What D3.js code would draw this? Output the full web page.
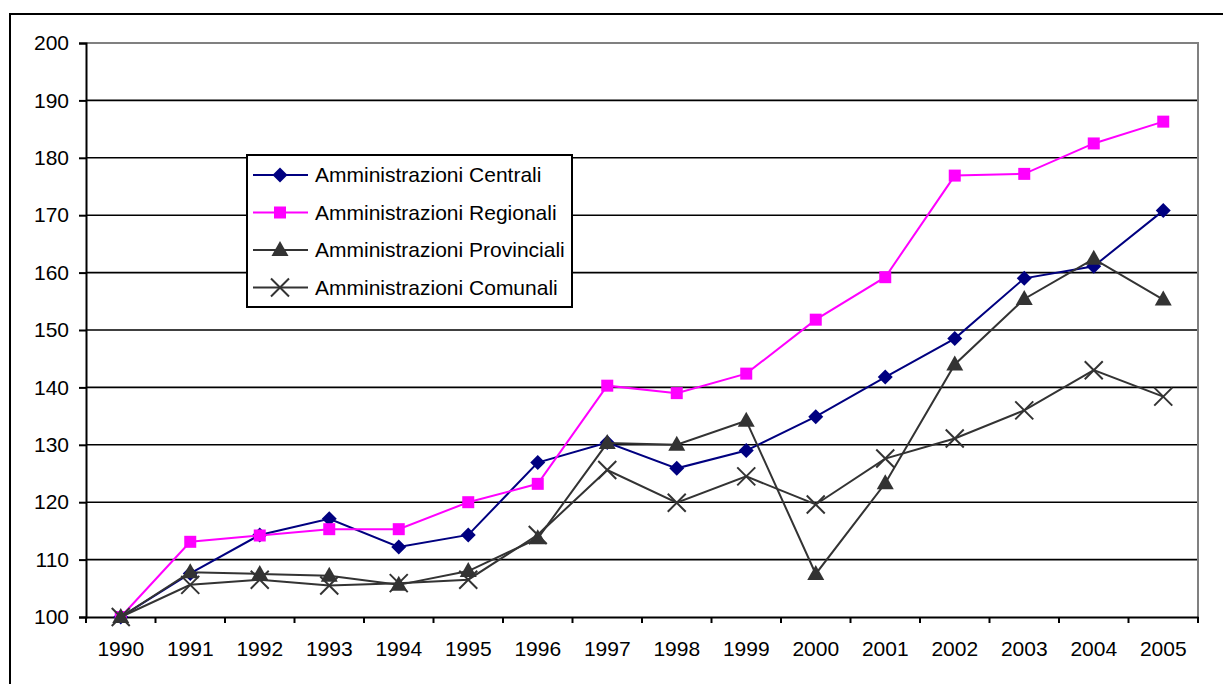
<!DOCTYPE html>
<html>
<head>
<meta charset="utf-8">
<script src="https://cdn.jsdelivr.net/npm/d3@7/dist/d3.min.js"></script>
<style>
  body { margin:0; background:#fff; }
  svg text { font-family:"Liberation Sans", Arial, sans-serif; fill:#000; }
</style>
</head>
<body>
<svg id="chart" width="1223" height="684"></svg>
<script>
var years = ['1990','1991','1992','1993','1994','1995','1996','1997','1998','1999','2000','2001','2002','2003','2004','2005'];
var centrali =    [100,107.6,114.3,117.1,112.2,114.3,126.9,130.4,125.9,129.0,134.9,141.8,148.5,159.0,161.1,170.8];
var regionali =   [100,113.1,114.2,115.3,115.3,120.0,123.2,140.3,139.0,142.4,151.8,159.2,176.9,177.2,182.5,186.3];
var provinciali = [100,107.8,107.5,107.2,105.6,108.0,113.7,130.3,130.0,134.2,107.5,123.3,144.0,155.4,162.4,155.3];
var comunali =    [100,105.6,106.5,105.5,105.9,106.5,114.3,125.6,119.9,124.5,119.6,127.6,131.1,136.0,143.0,138.4];
var yTicks = [100,110,120,130,140,150,160,170,180,190,200];

var series = [
  {name:'Amministrazioni Centrali', values:centrali, color:'#000080', marker:'diamond'},
  {name:'Amministrazioni Regionali', values:regionali, color:'#ff00ff', marker:'square'},
  {name:'Amministrazioni Provinciali', values:provinciali, color:'#333333', marker:'triangle'},
  {name:'Amministrazioni Comunali', values:comunali, color:'#333333', marker:'cross'}
];

var svg = d3.select('#chart');
var plotL = 86, plotR = 1198, plotT = 43, plotB = 617;

// outer frame
svg.append('rect').attr('x',10).attr('y',14).attr('width',1240).attr('height',700)
  .attr('fill','none').attr('stroke','#000').attr('stroke-width',2);

var x = d3.scaleBand().domain(years).range([plotL,plotR]);
var y = d3.scaleLinear().domain([100,200]).range([plotB,plotT]);

// gridlines
svg.append('g').selectAll('line').data(yTicks.slice(1,-1)).join('line')
  .attr('x1',plotL).attr('x2',plotR)
  .attr('y1',function(d){ return y(d); }).attr('y2',function(d){ return y(d); })
  .attr('stroke','#000').attr('stroke-width',1.6);

// plot area border (gray)
svg.append('path').attr('d','M'+plotL+','+plotT+'H'+plotR+'V'+plotB)
  .attr('fill','none').attr('stroke','#808080').attr('stroke-width',2);

var yAxis = svg.append('g').attr('transform','translate('+plotL+',0)')
  .call(d3.axisLeft(y).tickValues(yTicks).tickSize(7).tickPadding(10));
var xAxis = svg.append('g').attr('transform','translate(0,'+plotB+')')
  .call(d3.axisBottom(x).tickSize(6).tickPadding(18).tickSizeOuter(0));

// band boundary ticks
xAxis.selectAll('.tick line').remove();
xAxis.append('g').selectAll('line').data(years.concat(['end'])).join('line')
  .attr('x1',function(d,i){ return plotL + i*x.step(); })
  .attr('x2',function(d,i){ return plotL + i*x.step(); })
  .attr('y1',0).attr('y2',6).attr('stroke','#000').attr('stroke-width',2);

[yAxis, xAxis].forEach(function(a){
  a.select('.domain').attr('stroke','#000').attr('stroke-width',2);
  a.selectAll('.tick line').attr('stroke','#000').attr('stroke-width',2);
  a.selectAll('.tick text').attr('font-size','21px').attr('fill','#000');
});

var cx = function(i){ return x(years[i]) + x.bandwidth()/2; };

function drawMarker(g, type, color) {
  if (type === 'diamond') {
    g.append('path').attr('d','M0,-7.5L7.5,0L0,7.5L-7.5,0Z').attr('fill',color);
  } else if (type === 'square') {
    g.append('rect').attr('x',-6).attr('y',-6).attr('width',12).attr('height',12).attr('fill',color);
  } else if (type === 'triangle') {
    g.append('path').attr('d','M0,-9L8.5,6L-8.5,6Z').attr('fill',color);
  } else {
    g.append('path').attr('d','M-9,-9L9,9M-9,9L9,-9')
      .attr('stroke',color).attr('stroke-width',2);
  }
}

var line = d3.line().x(function(d,i){ return cx(i); }).y(function(d){ return y(d); });

series.forEach(function(s){
  svg.append('path').datum(s.values).attr('d',line)
    .attr('fill','none').attr('stroke',s.color).attr('stroke-width',2);
  s.values.forEach(function(v,i){
    var g = svg.append('g').attr('transform','translate('+cx(i)+','+y(v)+')');
    drawMarker(g, s.marker, s.color);
  });
});

// legend
var legend = svg.append('g').attr('transform','translate(247,155)');
legend.append('rect').attr('width',325).attr('height',152)
  .attr('fill','#fff').attr('stroke','#000').attr('stroke-width',2);
series.forEach(function(s,i){
  var ly = 20 + i*37.5;
  var row = legend.append('g').attr('transform','translate(0,'+ly+')');
  row.append('line').attr('x1',6).attr('x2',61).attr('y1',0).attr('y2',0)
    .attr('stroke',s.color).attr('stroke-width',2);
  drawMarker(row.append('g').attr('transform','translate(33,0)'), s.marker, s.color);
  row.append('text').attr('x',68).attr('y',0).attr('dy','0.35em')
    .attr('font-size','21px').text(s.name);
});
</script>
</body>
</html>
